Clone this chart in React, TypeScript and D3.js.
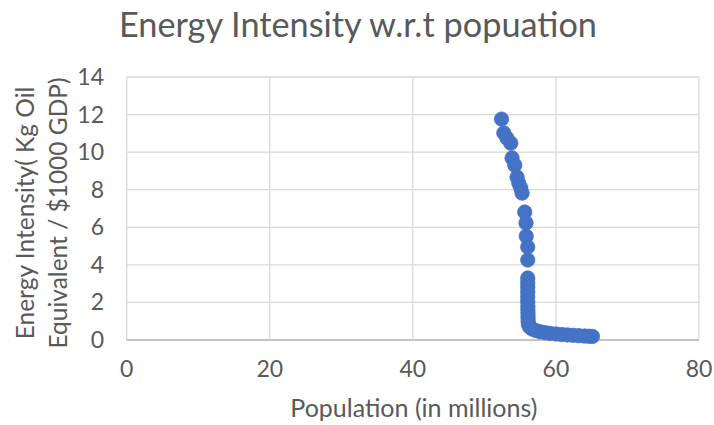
import React from "react";
import * as d3 from "d3";

const population: number[] = [
  52.4, 52.72, 53.14, 53.69, 53.87, 54.25, 54.57, 54.81, 55.09, 55.27,
  55.64, 55.82, 55.85, 56.06, 56.06,
  56.06, 56.06, 56.06, 56.06, 56.06, 56.06, 56.08, 56.08, 56.1, 56.1, 56.12, 56.15,
  56.3, 56.7, 57.2, 57.8, 58.5, 59.2, 60.0, 60.8, 61.6, 62.4, 63.2, 64.0, 64.6, 65.1,
];
const intensity: number[] = [
  11.76, 11.02, 10.75, 10.48, 9.69, 9.31, 8.67, 8.35, 8.09, 7.82,
  6.81, 6.23, 5.53, 4.95, 4.26,
  3.3, 3.05, 2.8, 2.55, 2.3, 2.05, 1.8, 1.6, 1.4, 1.2, 1.0, 0.85,
  0.7, 0.58, 0.5, 0.44, 0.39, 0.35, 0.32, 0.29, 0.27, 0.25, 0.23, 0.21, 0.2, 0.19,
];
const xTicks: number[] = [0, 20, 40, 60, 80];
const yTicks: number[] = [0, 2, 4, 6, 8, 10, 12, 14];

const W = 714;
const H = 425;
const FONT = "Lato, 'Open Sans', sans-serif";
const TEXT = "#595959";

export default function App() {
  const x = d3.scaleLinear().domain([0, 80]).range([126.7, 699]);
  const y = d3.scaleLinear().domain([0, 14]).range([340, 77]);
  const pts = population.map((p, i) => ({ p, v: intensity[i] }));

  return (
    <svg
      width={W}
      height={H}
      style={{ position: "absolute", left: 0, top: 0, background: "#fff" }}
      fontFamily={FONT}
    >
      <rect width={W} height={H} fill="#fff" />
      <text x={358} y={37} textAnchor="middle" fontSize={34} fill={TEXT} textLength={478} lengthAdjust="spacingAndGlyphs">
        Energy Intensity w.r.t popuation
      </text>

      {yTicks.map((t) => (
        <line key={"gy" + t} x1={x(0)} x2={x(80)} y1={y(t)} y2={y(t)} stroke={t === 0 ? "#bfbfbf" : "#d9d9d9"} strokeWidth={1.3} />
      ))}
      {xTicks.map((t) => (
        <line key={"gx" + t} x1={x(t)} x2={x(t)} y1={y(0)} y2={y(14)} stroke="#d9d9d9" strokeWidth={1.3} />
      ))}
      <line x1={x(0)} x2={x(80)} y1={y(0)} y2={y(0)} stroke="#bfbfbf" strokeWidth={1.3} />

      {yTicks.map((t) => (
        <text key={"ty" + t} x={104} y={y(t)} dy="0.35em" textAnchor="end" fontSize={23} fill={TEXT}>
          {t}
        </text>
      ))}
      {xTicks.map((t) => (
        <text key={"tx" + t} x={x(t)} y={377} textAnchor="middle" fontSize={23} fill={TEXT}>
          {t}
        </text>
      ))}

      <text x={x(40) + 1} y={417} textAnchor="middle" fontSize={25} fill={TEXT}>
        Population (in millions)
      </text>
      <g transform="translate(0,213) rotate(-90)">
        <text x={0} y={34} textAnchor="middle" fontSize={24.5} fill={TEXT}>
          Energy Intensity( Kg Oil
        </text>
        <text x={0} y={67} textAnchor="middle" fontSize={24.5} fill={TEXT}>
          Equivalent / $1000 GDP)
        </text>
      </g>

      {pts.map((d, i) => (
        <circle key={i} cx={x(d.p)} cy={y(d.v)} r={7.2} fill="#4472C4" stroke="#4472C4" strokeWidth={0.75} />
      ))}
    </svg>
  );
}
